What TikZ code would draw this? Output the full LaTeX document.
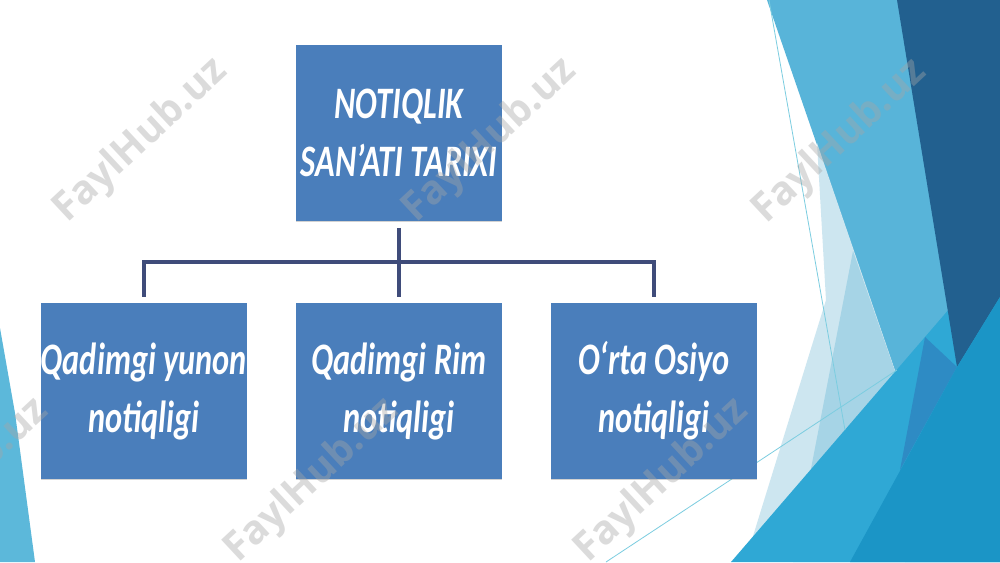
\documentclass[tikz,border=0pt]{standalone}
\usepackage{fontspec}
\usepackage{graphicx}
\usetikzlibrary{shadows}
\newfontfamily\boxfont{Carlito}
\newfontfamily\wmfont{Open Sans}
\definecolor{boxblue}{HTML}{4A7EBB}
\definecolor{connc}{HTML}{3F4C7A}
\definecolor{dlight}{HTML}{58B4D9}
\definecolor{dvpale}{HTML}{CDE6F0}
\definecolor{dpale}{HTML}{A6D4E6}
\definecolor{dbright}{HTML}{2FA8D5}
\definecolor{dstrip}{HTML}{2E8BC4}
\definecolor{ddark}{HTML}{22608F}
\definecolor{dright}{HTML}{1B95C6}
\definecolor{dline}{HTML}{7CCDE0}
\definecolor{dsliver}{HTML}{5CB8DA}
\newcommand{\sq}[1]{\scalebox{0.72}[1]{#1}}
\tikzset{
  box/.style={fill=boxblue, minimum width=155pt, minimum height=132pt, inner sep=0pt,
    text=white, align=center,
    font=\boxfont\bfseries\itshape\fontsize{33.75}{43.5}\selectfont,
    drop shadow={shadow xshift=0pt, shadow yshift=-1pt, opacity=0.35}},
  conn/.style={draw=connc, line width=3pt, line join=miter},
  wm/.style={rotate=43, text=gray!70, text opacity=0.4,
    font=\wmfont\bfseries\fontsize{30}{30}\selectfont},
  deco/.style={draw=none},
  thinline/.style={draw=dline, line width=0.6pt}
}
\begin{document}
\begin{tikzpicture}[x=0.75pt,y=-0.75pt]
\useasboundingbox (0,0) rectangle (1000,562);
\clip (0,0) rectangle (1000,562);
\fill[white] (0,0) rectangle (1000,562);

% right decoration
\fill[dlight] (767,0) -- (1000,0) -- (1000,562) -- (905,562) -- (905,400) -- cycle;
\fill[dvpale] (817,143) -- (900,385) -- (745,562) -- (826,300) -- cycle;
\fill[dpale] (853,251) -- (905,400) -- (905,562) -- (793,562) -- cycle;
\fill[dbright] (731,562) -- (1000,250) -- (1000,562) -- cycle;
\fill[dstrip] (925,337) -- (957,367) -- (900,470) -- cycle;
\fill[ddark] (897,0) -- (1000,0) -- (1000,297) -- (957,367) -- cycle;
\fill[dright] (1000,297) -- (957,367) -- (850,562) -- (1000,562) -- cycle;
\draw[thinline] (769,0) -- (845,430);
\draw[thinline] (606,562) -- (897,370);

% left sliver
\fill[dsliver] (0,328) -- (15,413) -- (35,562) -- (0,562) -- cycle;

% boxes
\node[box] (top) at (399,133) {\sq{NOTIQLIK}\\\sq{SAN’ATI TARIXI}};
\node[box] (b1) at (144,391) {\sq{Qadimgi yunon}\\\sq{notiqligi}};
\node[box] (b2) at (399,391) {\sq{Qadimgi Rim}\\\sq{notiqligi}};
\node[box] (b3) at (654,391) {\sq{O‘rta Osiyo}\\\sq{notiqligi}};

% connectors
\coordinate (bus) at (399,262);
\draw[conn] ([yshift=-5pt]top.south) -- ([yshift=4.5pt]b2.north);
\draw[conn] ([yshift=4.5pt]b1.north) -- (b1.north |- bus) -- (b3.north |- bus) -- ([yshift=4.5pt]b3.north);

% watermarks
\node[wm] (w1) at (141,141) {FaylHub.uz};
\node[wm] (w2) at (490,141) {FaylHub.uz};
\node[wm] (w3) at (840,142) {FaylHub.uz};
\node[wm] (w4) at (-38,481) {FaylHub.uz};
\node[wm] (w5) at (312,481) {FaylHub.uz};
\node[wm] (w6) at (662,481) {FaylHub.uz};
\end{tikzpicture}
\end{document}
